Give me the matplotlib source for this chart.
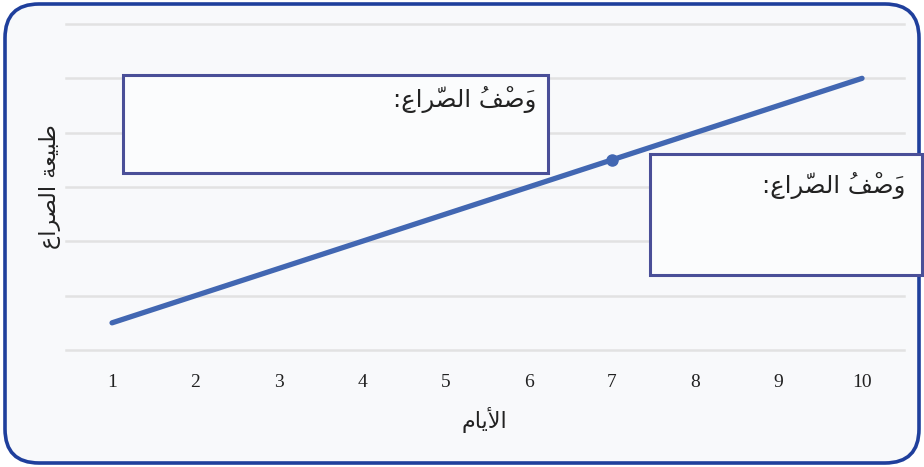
import matplotlib
matplotlib.use("Agg")
import matplotlib.pyplot as plt
from matplotlib.patches import FancyBboxPatch, Rectangle

# data
days = [1, 2, 3, 4, 5, 6, 7, 8, 9, 10]
tension = [0.5, 1.0, 1.5, 2.0, 2.5, 3.0, 3.5, 4.0, 4.5, 5.0]
marked_day = 7
y_grid = [0, 1, 2, 3, 4, 5, 6]

# Arabic text, pre-shaped (presentation forms, visual order) since matplotlib has no bidi;
# marks go before their base letter so DejaVu places them over it
# "وَصْفُ الصّراعِ:"
desc_text = (":" + "\u0650\uFEC9" + "\uFE8D" + "\uFEAE" + "\u0651\uFEBC" + "\uFEDF" + "\uFE8D"
             + " " + "\u064F\uFED2" + "\u0652\uFEBB" + "\u064E\uFEED")
# "طبيعة الصراع"
ylabel_text = ("\uFEC9" + "\uFE8D" + "\uFEAE" + "\uFEBC" + "\uFEDF" + "\uFE8D"
               + " " + "\uFE94" + "\uFECC" + "\uFEF4" + "\uFE92" + "\uFEC3")
# "الأيام"
xlabel_text = "\uFEE1" + "\uFE8E" + "\uFEF3" + "\uFEF7" + "\uFE8D"

W, H = 924, 467
fig = plt.figure(figsize=(W / 100, H / 100), dpi=100)
fig.patch.set_facecolor("white")


def px(x, y):
    # pixel (from top-left) -> inches for dpi_scale_trans
    return x / 100, (H - y) / 100


# rounded frame
x0, y0 = px(5, 463)
frame = FancyBboxPatch((x0, y0), 914 / 100, 459 / 100,
                       boxstyle="round,pad=0,rounding_size=0.34",
                       transform=fig.dpi_scale_trans, facecolor="#f8f9fb",
                       edgecolor="#1f3f9c", linewidth=2.6, zorder=0)
fig.add_artist(frame)

ax = fig.add_axes([66.2 / W, 117 / H, (903.7 - 66.2) / W, (443 - 117) / H])
ax.set_facecolor("none")
ax.set_xlim(0.45, 10.5)
ax.set_ylim(0, 6)
for s in ax.spines.values():
    s.set_visible(False)
for g in y_grid:
    ax.axhline(g, color="#e2e2e2", linewidth=1.8, zorder=1, clip_on=False)

ax.plot(days, tension, color="#4267b2", linewidth=3.8, solid_capstyle="round", zorder=3)
ax.plot([marked_day], [tension[days.index(marked_day)]], "o", color="#4267b2",
        markersize=8, zorder=4)

ax.set_xticks(days)
ax.set_xticklabels([str(d) for d in days], family="Liberation Serif", fontsize=14,
                   color="#222222")
ax.set_yticks([])
ax.tick_params(axis="x", length=0, pad=17)

# description boxes
for (bx, by, bw, bh) in [(123, 75, 425, 98), (650, 154, 272, 121)]:
    lx, ly = px(bx, by + bh)
    r = Rectangle((lx, ly), bw / 100, bh / 100, transform=fig.dpi_scale_trans,
                  facecolor="#fbfcfd", edgecolor="#4a4f98", linewidth=2.2, zorder=5)
    fig.add_artist(r)

fig.text(536 / W, 1 - 100 / H, desc_text, family="DejaVu Sans", fontsize=17.5,
         ha="right", va="center", color="#222222", zorder=6)
fig.text(905 / W, 1 - 186 / H, desc_text, family="DejaVu Sans", fontsize=17.5,
         ha="right", va="center", color="#222222", zorder=6)

fig.text(50 / W, 1 - 187 / H, ylabel_text, family="DejaVu Sans", fontsize=16,
         rotation=90, ha="center", va="center", color="#222222")
fig.text(484 / W, 1 - 420 / H, xlabel_text, family="DejaVu Sans", fontsize=16,
         ha="center", va="center", color="#222222")

fig.savefig("out.png", dpi=100)
